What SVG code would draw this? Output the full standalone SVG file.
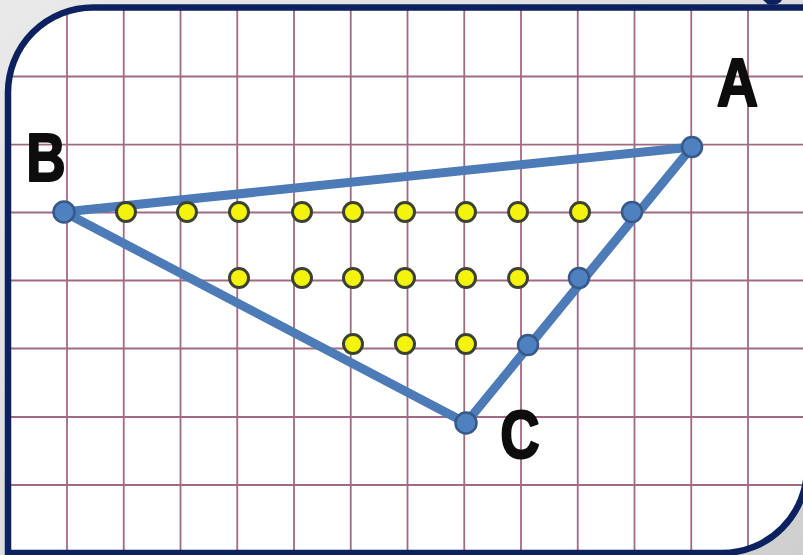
<svg xmlns="http://www.w3.org/2000/svg" width="803" height="555" viewBox="0 0 803 555">
  <defs>
    <clipPath id="frameClip">
      <path d="M 8 93 A 85 85 0 0 1 93 7.5 L 807 7.5 L 807 468 A 85 85 0 0 1 722 553 L 8 553 Z"/>
    </clipPath>
    <linearGradient id="bg" x1="0" y1="0" x2="1" y2="1">
      <stop offset="0" stop-color="#e9e9e9"/>
      <stop offset="1" stop-color="#cfcfcf"/>
    </linearGradient>
    <filter id="soft" x="-5%" y="-5%" width="110%" height="110%">
      <feGaussianBlur stdDeviation="0.5"/>
    </filter>
  </defs>
  <style>
    .grid line { stroke: #a16a82; stroke-width: 1.8; }
    .side { stroke: #4c7bb8; stroke-width: 9; stroke-linecap: round; fill: none; }
    .vertex { fill: #4f80c0; stroke: #36598a; stroke-width: 2.5; }
    .inner { fill: #f3f30c; stroke: #3b4233; stroke-width: 3; }
    .label { font-family: "Liberation Sans", Arial, sans-serif; font-weight: bold; font-size: 70px; fill: #0d0d0d; stroke: #0d0d0d; stroke-width: 2.2; stroke-linejoin: round; text-anchor: middle; }
  </style>

  <!-- background outside the frame -->
  <rect x="0" y="0" width="803" height="555" fill="url(#bg)"/>
  <path d="M763 0 L782 0 Q779 6 768 4.5 Z" fill="#0b2160"/>

  <!-- paper -->
  <path d="M 8 93 A 85 85 0 0 1 93 7.5 L 807 7.5 L 807 468 A 85 85 0 0 1 722 553 L 8 553 Z" fill="#ffffff"/>

  <!-- grid -->
  <g class="grid" clip-path="url(#frameClip)">
    <g filter="url(#soft)">
      <line x1="67" y1="0" x2="67" y2="555"/>
      <line x1="123.75" y1="0" x2="123.75" y2="555"/>
      <line x1="180.5" y1="0" x2="180.5" y2="555"/>
      <line x1="237.25" y1="0" x2="237.25" y2="555"/>
      <line x1="294" y1="0" x2="294" y2="555"/>
      <line x1="350.75" y1="0" x2="350.75" y2="555"/>
      <line x1="407.5" y1="0" x2="407.5" y2="555"/>
      <line x1="464.25" y1="0" x2="464.25" y2="555"/>
      <line x1="521" y1="0" x2="521" y2="555"/>
      <line x1="577.75" y1="0" x2="577.75" y2="555"/>
      <line x1="634.5" y1="0" x2="634.5" y2="555"/>
      <line x1="691.25" y1="0" x2="691.25" y2="555"/>
      <line x1="748" y1="0" x2="748" y2="555"/>
      <line x1="0" y1="76.5" x2="803" y2="76.5"/>
      <line x1="0" y1="144.6" x2="803" y2="144.6"/>
      <line x1="0" y1="212.5" x2="803" y2="212.5"/>
      <line x1="0" y1="280.5" x2="803" y2="280.5"/>
      <line x1="0" y1="348.5" x2="803" y2="348.5"/>
      <line x1="0" y1="417" x2="803" y2="417"/>
      <line x1="0" y1="485" x2="803" y2="485"/>
    </g>
  </g>

  <!-- frame border -->
  <path d="M 8 93 A 85 85 0 0 1 93 7.5 L 807 7.5 L 807 468 A 85 85 0 0 1 722 553 L 8 553 Z" fill="none" stroke="#0b2160" stroke-width="6.5"/>

  <!-- connectors: triangle sides -->
  <g id="connectors">
    <line class="side" x1="64" y1="212" x2="692" y2="147"/>
    <line class="side" x1="692" y1="147" x2="466" y2="423"/>
    <line class="side" x1="466" y1="423" x2="64" y2="212"/>
  </g>

  <!-- interior lattice points -->
  <g id="interior-points">
    <circle class="inner" cx="126" cy="212" r="9.5"/>
    <circle class="inner" cx="187" cy="212" r="9.5"/>
    <circle class="inner" cx="239" cy="212" r="9.5"/>
    <circle class="inner" cx="302" cy="212" r="9.5"/>
    <circle class="inner" cx="353" cy="212" r="9.5"/>
    <circle class="inner" cx="405" cy="212" r="9.5"/>
    <circle class="inner" cx="466" cy="212" r="9.5"/>
    <circle class="inner" cx="518" cy="212" r="9.5"/>
    <circle class="inner" cx="580" cy="212" r="9.5"/>
    <circle class="inner" cx="239" cy="278" r="9.5"/>
    <circle class="inner" cx="302" cy="278" r="9.5"/>
    <circle class="inner" cx="353" cy="278" r="9.5"/>
    <circle class="inner" cx="405" cy="278" r="9.5"/>
    <circle class="inner" cx="466" cy="278" r="9.5"/>
    <circle class="inner" cx="518" cy="278" r="9.5"/>
    <circle class="inner" cx="353" cy="344" r="9.5"/>
    <circle class="inner" cx="405" cy="344" r="9.5"/>
    <circle class="inner" cx="466" cy="344" r="9.5"/>
  </g>

  <!-- boundary lattice points -->
  <g id="boundary-points">
    <circle class="vertex" cx="632" cy="212" r="10"/>
    <circle class="vertex" cx="579" cy="278" r="10"/>
    <circle class="vertex" cx="528" cy="345" r="10"/>
  </g>

  <g id="node-A">
    <circle class="vertex" cx="692" cy="147" r="10"/>
    <text class="label" transform="translate(737.5 106) scale(0.82 0.98)">A</text>
  </g>
  <g id="node-B">
    <circle class="vertex" cx="64" cy="212" r="10.5"/>
    <text class="label" transform="translate(46 181) scale(0.78 0.98)">B</text>
  </g>
  <g id="node-C">
    <circle class="vertex" cx="466" cy="423" r="10.5"/>
    <text class="label" transform="translate(520 458) scale(0.78 0.98)">C</text>
  </g>
</svg>
